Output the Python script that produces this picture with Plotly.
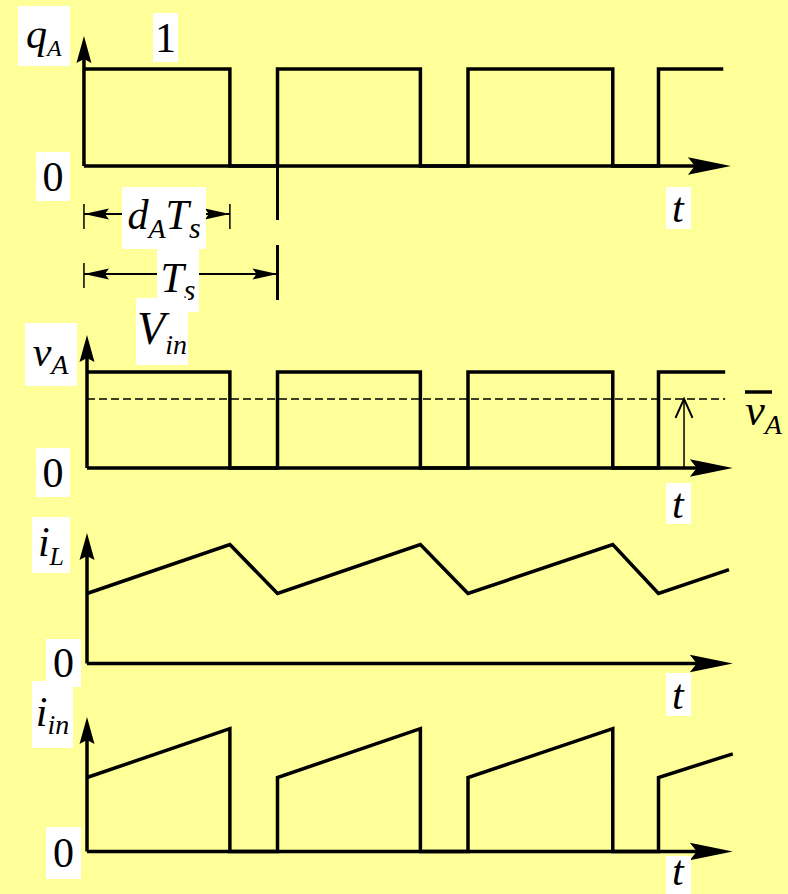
import plotly.graph_objects as go

# ---------------- waveform data (time in units of the switching period Ts) ----------------
t_on = [0.0, 1.0, 2.0, 3.0]        # switch turn-on instants
t_off = [0.75, 1.75, 2.76]         # switch turn-off instants
t_q_start = -0.016                 # q_A trace starts on its own vertical axis
t_end_q = 3.34
t_end_v = 3.35
t_end_iL = 3.37
t_end_iin = 3.39

q_high = 1.0                       # switching function q_A: 0 / 1
V_in = 1.0                         # v_A high level
v_avg = 0.72                       # average of v_A (dashed line)
t_avg_arrow = 3.134                # where the average-value arrow is drawn

iL_valley = 1.0                    # inductor current ripple
iL_peak = 1.70
iL_last = 1.34

iin_low = 1.0                      # input current during on-time
iin_high = 1.66
iin_last = 1.32

# ---------------- page geometry ----------------
W, H = 788, 894
X0_PX, PX_PER_T = 87.0, 190.5      # x pixel of t = 0 and pixels per Ts
BG = "#FFFF99"
FONT = "Liberation Serif"

# baseline pixel / pixels per unit of each stacked trace
panels = [
    dict(base=166.0, scale=97.0),   # q_A
    dict(base=468.0, scale=96.0),   # v_A
    dict(base=663.5, scale=70.0),   # i_L
    dict(base=851.5, scale=74.0),   # i_in
]
axis_origin = [t_q_start, 0.0, 0.0, 0.0]
axis_x_tip = [3.38, 3.39, 3.39, 3.39]
axis_y_tip = [1.34, 1.385, 1.864, 1.818]


def pulse_train(t_first, v_start, v_stop, t_last, v_last):
    xs, ys = [t_first], [v_start]
    for k, toff in enumerate(t_off):
        xs += [toff, toff]
        ys += [v_stop, 0.0]
        ton = t_on[k + 1]
        xs += [ton, ton]
        ys += [0.0, v_start]
    xs.append(t_last)
    ys.append(v_last)
    return xs, ys


q_x, q_y = pulse_train(t_q_start, q_high, q_high, t_end_q, q_high)
v_x, v_y = pulse_train(t_on[0], V_in, V_in, t_end_v, V_in)
iin_x, iin_y = pulse_train(t_on[0], iin_low, iin_high, t_end_iin, iin_last)

iL_x, iL_y = [], []
for k in range(len(t_off)):
    iL_x += [t_on[k], t_off[k]]
    iL_y += [iL_valley, iL_peak]
iL_x += [t_on[-1], t_end_iL]
iL_y += [iL_valley, iL_last]

fig = go.Figure()
LW = 3.5
yrefs = ["y", "y2", "y3", "y4"]
for (xs, ys), yr in zip([(q_x, q_y), (v_x, v_y), (iL_x, iL_y), (iin_x, iin_y)], yrefs):
    fig.add_trace(go.Scatter(x=xs, y=ys, yaxis=yr, mode="lines",
                             line=dict(color="black", width=LW), hoverinfo="skip"))

shapes = []

# axes with arrowheads
for i, yr in enumerate(yrefs):
    sc = panels[i]["scale"]
    o = axis_origin[i]
    shapes.append(dict(type="line", xref="x", yref=yr, x0=o, x1=o, y0=0,
                       y1=axis_y_tip[i] - 22 / sc, line=dict(color="black", width=LW)))
    shapes.append(dict(type="line", xref="x", yref=yr, x0=o, y0=0, y1=0,
                       x1=axis_x_tip[i] - 34 / PX_PER_T, line=dict(color="black", width=LW)))
    shapes.append(dict(type="path", xref="x", yref=yr, xsizemode="pixel", ysizemode="pixel",
                       xanchor=o, yanchor=axis_y_tip[i],
                       path="M0,0 L-7.5,-27 L0,-23 L7.5,-27 Z",
                       fillcolor="black", line=dict(width=0)))
    shapes.append(dict(type="path", xref="x", yref=yr, xsizemode="pixel", ysizemode="pixel",
                       xanchor=axis_x_tip[i], yanchor=0,
                       path="M0,0 L-43,8.7 L-36,0 L-43,-8.7 Z",
                       fillcolor="black", line=dict(width=0)))

# dimension lines under q_A: d_A*Ts and Ts
sc1 = panels[0]["scale"]
dim_dA = -48 / sc1
dim_Ts = -108 / sc1
thin = dict(color="black", width=2)
shapes += [
    dict(type="line", xref="x", yref="y", x0=t_q_start, x1=t_off[0], y0=dim_dA, y1=dim_dA, line=thin),
    dict(type="line", xref="x", yref="y", x0=t_q_start, x1=t_on[1], y0=dim_Ts, y1=dim_Ts, line=thin),
    dict(type="line", xref="x", yref="y", x0=t_q_start, x1=t_q_start, y0=-38 / sc1, y1=-63 / sc1,
         line=dict(color="black", width=1.5)),
    dict(type="line", xref="x", yref="y", x0=t_off[0], x1=t_off[0], y0=-38 / sc1, y1=-63 / sc1,
         line=dict(color="black", width=1.5)),
    dict(type="line", xref="x", yref="y", x0=t_q_start, x1=t_q_start, y0=-97 / sc1, y1=-122 / sc1,
         line=dict(color="black", width=1.5)),
    dict(type="line", xref="x", yref="y", x0=t_on[1], x1=t_on[1], y0=0, y1=-54 / sc1,
         line=dict(color="black", width=3)),
    dict(type="line", xref="x", yref="y", x0=t_on[1], x1=t_on[1], y0=-79 / sc1, y1=-134 / sc1,
         line=dict(color="black", width=3)),
]
left_head = "M0,0 L25,5.5 L21,0 L25,-5.5 Z"
right_head = "M0,0 L-25,5.5 L-21,0 L-25,-5.5 Z"
for xa, ya, pth in [(t_q_start, dim_dA, left_head), (t_off[0], dim_dA, right_head),
                    (t_q_start, dim_Ts, left_head), (t_on[1], dim_Ts, right_head)]:
    shapes.append(dict(type="path", xref="x", yref="y", xsizemode="pixel", ysizemode="pixel",
                       xanchor=xa, yanchor=ya, path=pth, fillcolor="black", line=dict(width=0)))

# average of v_A: dashed level and arrow
shapes.append(dict(type="line", xref="x", yref="y2", x0=t_on[0], x1=t_end_v, y0=v_avg, y1=v_avg,
                   line=dict(color="black", width=1.5, dash="8px,4px")))
shapes.append(dict(type="line", xref="x", yref="y2", x0=t_avg_arrow, x1=t_avg_arrow, y0=0, y1=v_avg,
                   line=dict(color="black", width=1.5)))
shapes.append(dict(type="path", xref="x", yref="y2", xsizemode="pixel", ysizemode="pixel",
                   xanchor=t_avg_arrow, yanchor=v_avg, path="M-8.5,-19 L0,0 L8.5,-19",
                   line=dict(color="black", width=2)))
# overbar of the average-value symbol
shapes.append(dict(type="line", xref="paper", yref="paper", x0=745 / W, x1=772 / W,
                   y0=1 - 392 / H, y1=1 - 392 / H, line=dict(color="black", width=3.5)))
# white backing of the time label on the lower page edge
shapes.append(dict(type="rect", xref="paper", yref="paper", x0=666 / W, x1=691 / W,
                   y0=0, y1=1 - 856 / H, fillcolor="white", line=dict(width=0), layer="above"))


def sub(s, px=26):
    return f"<sub><span style='font-size:{px}px'><i>{s}</i></span></sub>"


def label(text, x0, x1, y0, y1, size=42, bg="white", valign="middle"):
    return dict(text=text, xref="paper", yref="paper",
                x=(x0 + x1) / 2 / W, y=1 - (y0 + y1) / 2 / H,
                xanchor="center", yanchor="middle", width=x1 - x0, height=y1 - y0,
                showarrow=False, bgcolor=bg, borderpad=0, borderwidth=0,
                align="center", valign=valign,
                font=dict(family=FONT, size=size, color="black"))


annotations = [
    label("<i>q</i>" + sub("A", 24), 18, 70, 6, 66),
    label("1", 153, 178, 13, 62),
    label("0", 36, 70, 152, 201),
    label("<i>t</i>", 666, 691, 187, 229),
    label("<i>d</i>" + sub("A", 28) + "<i>T</i>" + sub("s", 30), 122, 206, 187, 249),
    label("<i>T</i>" + sub("s", 30), 157, 199, 249, 312),
    label("<i>V</i>" + sub("in", 28), 136, 188, 298, 365, size=46),
    label("<i>v</i>" + sub("A", 28), 25, 77, 323, 386),
    label("0", 36, 70, 448, 497),
    label("<i>v</i>" + sub("A", 28), 740, 788, 386, 440, size=44, bg="rgba(0,0,0,0)"),
    label("<i>t</i>", 666, 691, 483, 524),
    label("<i>i</i>" + sub("L", 26), 32, 70, 517, 573),
    label("0", 46, 81, 639, 687),
    label("<i>t</i>", 666, 691, 673, 716),
    label("<i>i</i>" + sub("in", 28), 32, 73, 681, 748),
    label("0", 46, 81, 827, 879),
    label("<i>t</i>", 666, 691, 849, 893, bg="rgba(0,0,0,0)"),
]

layout_axes = {}
for i, yr in enumerate(yrefs):
    p = panels[i]
    name = "yaxis" if i == 0 else f"yaxis{i + 1}"
    ax = dict(range=[-(H - p["base"]) / p["scale"], p["base"] / p["scale"]],
              domain=[0, 1], visible=False, fixedrange=True)
    if i > 0:
        ax["overlaying"] = "y"
    layout_axes[name] = ax

fig.update_layout(
    width=W, height=H, margin=dict(l=0, r=0, t=0, b=0),
    paper_bgcolor=BG, plot_bgcolor=BG, showlegend=False,
    xaxis=dict(range=[-X0_PX / PX_PER_T, (W - X0_PX) / PX_PER_T], domain=[0, 1],
               visible=False, fixedrange=True),
    shapes=shapes, annotations=annotations,
    **layout_axes,
)

fig.write_html("out.html")
